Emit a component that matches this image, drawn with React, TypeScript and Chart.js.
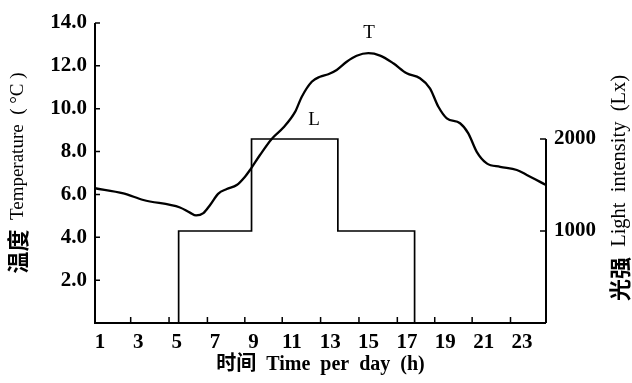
import { useEffect, useRef } from 'react';
import { Chart, registerables } from 'chart.js';

Chart.register(...registerables);

// Temperature curve T (hour of day, °C)
const tempHours = [0.74, 2.22, 3.26, 5.17, 5.69, 6.01, 6.39, 6.74, 7.17, 7.61, 8.13, 8.56, 8.82, 9.34, 9.95, 10.56, 11.17, 11.52, 12.04, 12.47, 12.9, 13.34, 13.86, 14.38, 14.99, 15.6, 16.29, 16.99, 17.68, 18.2, 18.64, 19.08, 19.77, 20.2, 20.64, 21.16, 21.86, 22.73, 23.25, 24.25];
const tempValues = [6.29, 6.05, 5.74, 5.39, 5.15, 5.02, 5.13, 5.51, 6.04, 6.25, 6.44, 6.83, 7.14, 7.84, 8.59, 9.12, 9.85, 10.56, 11.26, 11.49, 11.61, 11.81, 12.19, 12.47, 12.59, 12.48, 12.12, 11.65, 11.42, 10.95, 10.09, 9.55, 9.32, 8.85, 7.99, 7.45, 7.29, 7.14, 6.91, 6.44];

// Light intensity L (step edges in hours, levels in lx)
const lightEdges = [5.1, 8.9, 13.4, 17.4];
const lightLevels = [1000, 2000, 1000];

// Axis ticks
const xTickLabels = [1, 3, 5, 7, 9, 11, 13, 15, 17, 19, 21, 23];
const xMinorTicks = [2.6, 4.6, 6.6, 8.55, 10.5, 12.5, 14.5, 16.5, 18.45, 20.4, 22.4];
const tempTicks = [2, 4, 6, 8, 10, 12, 14];
const lightTicks = [1000, 2000];

const X_MIN = 0.74;
const X_MAX = 24.25;
const T_MAX = 14;
const L_MAX = 3261;

const SERIF = '"Liberation Serif", "Times New Roman", "Noto Sans CJK SC", serif';
const CJK = '"Noto Sans CJK SC", sans-serif';

function buildLightPoints() {
  const pts: { x: number; y: number }[] = [];
  pts.push({ x: lightEdges[0], y: 0 });
  for (let i = 0; i < lightLevels.length; i++) {
    pts.push({ x: lightEdges[i], y: lightLevels[i] });
    pts.push({ x: lightEdges[i + 1], y: lightLevels[i] });
  }
  pts.push({ x: lightEdges[lightEdges.length - 1], y: 0 });
  return pts;
}

type Part = { text: string; font: string };

function drawVerticalTitle(ctx: CanvasRenderingContext2D, cx: number, cy: number, parts: Part[]) {
  ctx.save();
  ctx.translate(cx, cy);
  ctx.rotate(-Math.PI / 2);
  ctx.textBaseline = 'middle';
  ctx.textAlign = 'left';
  let total = 0;
  const widths = parts.map((p) => {
    ctx.font = p.font;
    const w = ctx.measureText(p.text).width;
    total += w;
    return w;
  });
  let x0 = -total / 2;
  parts.forEach((p, i) => {
    ctx.font = p.font;
    ctx.fillText(p.text, x0, 0);
    x0 += widths[i];
  });
  ctx.restore();
}

const axesPlugin = {
  id: 'customAxes',
  afterDraw(chart: any) {
    const { ctx, chartArea } = chart;
    const { left, right, top, bottom } = chartArea;
    const x = chart.scales.x;
    const y = chart.scales.y;
    const y2 = chart.scales.y2;
    ctx.save();
    ctx.strokeStyle = '#000';
    ctx.lineWidth = 2;
    ctx.lineCap = 'butt';
    ctx.beginPath();
    ctx.moveTo(left, top);
    ctx.lineTo(left, bottom);
    ctx.lineTo(right, bottom);
    ctx.moveTo(right, bottom);
    ctx.lineTo(right, y2.getPixelForValue(lightTicks[lightTicks.length - 1]));
    ctx.stroke();

    ctx.lineWidth = 1.5;
    ctx.beginPath();
    for (const v of tempTicks) {
      const py = y.getPixelForValue(v);
      ctx.moveTo(left, py);
      ctx.lineTo(left + 5, py);
    }
    for (const v of lightTicks) {
      const py = y2.getPixelForValue(v);
      ctx.moveTo(right, py);
      ctx.lineTo(right - 6, py);
    }
    for (const v of xMinorTicks) {
      const px = x.getPixelForValue(v);
      ctx.moveTo(px, bottom);
      ctx.lineTo(px, bottom - 6);
    }
    ctx.stroke();

    ctx.fillStyle = '#000';
    ctx.textAlign = 'center';
    ctx.textBaseline = 'middle';
    ctx.font = `19px ${SERIF}`;
    ctx.fillText('T', x.getPixelForValue(15.03), y.getPixelForValue(13.53));
    ctx.fillText('L', x.getPixelForValue(12.16), y.getPixelForValue(9.47));

    // axis titles, reading bottom to top
    drawVerticalTitle(ctx, 18, 173, [
      { text: '温度', font: `bold 22px ${CJK}` },
      { text: '  Temperature  ( °C )', font: `19px ${SERIF}` },
    ]);
    drawVerticalTitle(ctx, 620, 188, [
      { text: '光强', font: `bold 22px ${CJK}` },
      { text: '  Light  intensity  (Lx)', font: `20.5px ${SERIF}` },
    ]);
    ctx.restore();
  },
};

export default function App() {
  const ref = useRef<HTMLCanvasElement>(null);

  useEffect(() => {
    document.body.style.margin = '0';
    const canvas = ref.current;
    if (!canvas) return;
    const tickFont = { family: SERIF, size: 21, weight: 'bold' as const };
    const chart = new Chart(canvas, {
      type: 'line',
      data: {
        datasets: [
          {
            label: 'T',
            data: tempHours.map((h, i) => ({ x: h, y: tempValues[i] })),
            yAxisID: 'y',
            borderColor: '#000',
            borderWidth: 2.3,
            pointRadius: 0,
            fill: false,
            cubicInterpolationMode: 'monotone',
          },
          {
            label: 'L',
            data: buildLightPoints(),
            yAxisID: 'y2',
            borderColor: '#000',
            borderWidth: 1.7,
            pointRadius: 0,
            fill: false,
            tension: 0,
          },
        ],
      },
      options: {
        animation: false,
        responsive: false,
        devicePixelRatio: 1,
        layout: { padding: { top: 23, left: 0, right: 0, bottom: 0 } },
        plugins: { legend: { display: false }, tooltip: { enabled: false } },
        scales: {
          x: {
            type: 'linear',
            min: X_MIN,
            max: X_MAX,
            afterFit: (s: any) => { s.height = 60; },
            afterBuildTicks: (s: any) => { s.ticks = xTickLabels.map((v) => ({ value: v })); },
            grid: { display: false, drawTicks: false },
            border: { display: false },
            ticks: {
              autoSkip: false,
              maxRotation: 0,
              padding: 7,
              color: '#000',
              font: tickFont,
              callback: (v: any) => String(v),
            },
            title: {
              display: true,
              text: '时间  Time  per  day  (h)',
              color: '#000',
              font: { family: SERIF, size: 20, weight: 'bold' },
              padding: { top: 0, bottom: 6 },
            },
          },
          y: {
            position: 'left',
            min: 0,
            max: T_MAX,
            afterFit: (s: any) => { s.width = 95; },
            afterBuildTicks: (s: any) => { s.ticks = [0, ...tempTicks].map((v) => ({ value: v })); },
            grid: { display: false, drawTicks: false },
            border: { display: false },
            ticks: {
              padding: 8,
              color: '#000',
              font: tickFont,
              callback: (v: any) => (v === 0 ? '' : Number(v).toFixed(1)),
            },
          },
          y2: {
            position: 'right',
            min: 0,
            max: L_MAX,
            afterFit: (s: any) => { s.width = 86; },
            afterBuildTicks: (s: any) => { s.ticks = lightTicks.map((v) => ({ value: v })); },
            grid: { display: false, drawTicks: false },
            border: { display: false },
            ticks: {
              padding: 8,
              color: '#000',
              font: tickFont,
              callback: (v: any) => String(v),
            },
          },
        },
      },
      plugins: [axesPlugin],
    });
    return () => chart.destroy();
  }, []);

  return (
    <div style={{ position: 'absolute', left: 0, top: 0, width: 632, height: 383, background: '#fff' }}>
      <canvas ref={ref} width={632} height={383} />
    </div>
  );
}
